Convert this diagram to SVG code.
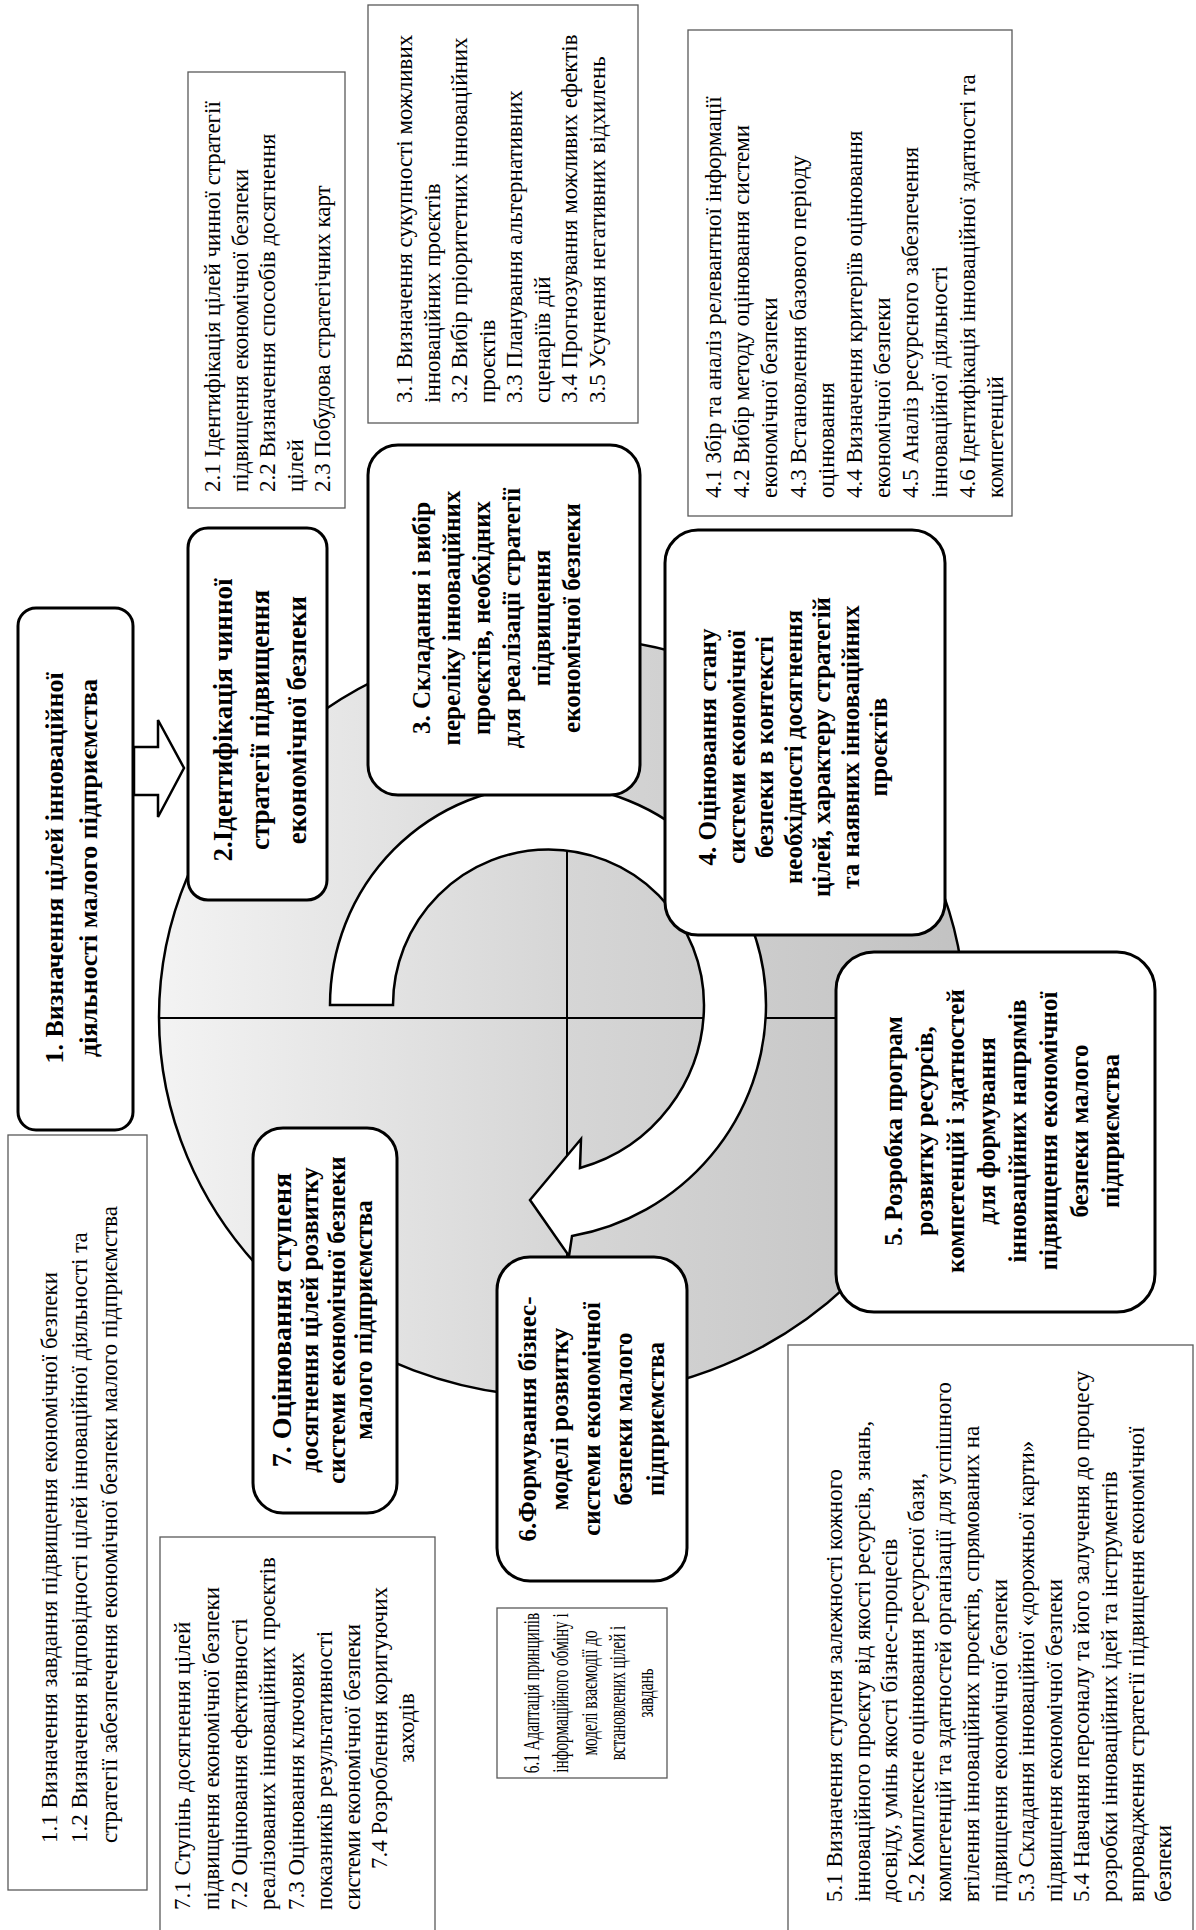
<svg xmlns="http://www.w3.org/2000/svg" width="1196" height="1930" viewBox="0 0 1196 1930">
<defs>
<linearGradient id="g" x1="0" y1="0" x2="1" y2="0">
<stop offset="0" stop-color="#f3f3f3"/><stop offset="0.5" stop-color="#d6d6d6"/><stop offset="1" stop-color="#c2c2c2"/>
</linearGradient>
<style>
.t{font-family:"Liberation Serif","Times New Roman",serif;font-size:23px;fill:#000}
.b{font-family:"Liberation Serif","Times New Roman",serif;font-size:25px;font-weight:bold;fill:#000;text-anchor:middle}
.m{text-anchor:middle}
.n{fill:#fff;stroke:#000;stroke-width:3}
.s{fill:#fff;stroke:#595959;stroke-width:1.3}
.ln{stroke:#000;stroke-width:2}
.ar{fill:#fff;stroke:#000;stroke-width:2.5}
</style>
</defs>
<rect width="1196" height="1930" fill="#fff"/>
<g id="wheel">
<ellipse cx="562" cy="1017" rx="403" ry="380" fill="url(#g)" stroke="#000" stroke-width="2.5"/>
<line class="ln" x1="159" y1="1018" x2="965" y2="1018"/>
<line class="ln" x1="567" y1="637" x2="567" y2="1397"/>
</g>
<g id="connectors">
<path class="ar" d="M330 1005 A218 220 0 0 1 766 1005 A235 235 0 0 1 572 1236 L569 1256 L530 1200 L581 1139 L580 1168 A170 170 0 0 0 704 1005 A155.5 155.5 0 0 0 393 1005 Z"/>
<polygon class="ar" points="134,747 158,747 158,720 184,768 158,817 158,795 134,795"/>
</g>
<g id="node1" transform="translate(18,1130) rotate(-90)">
<rect class="n" width="522" height="115" rx="18"/>
<text class="b" style="font-size:26px"><tspan x="262" y="45">1. Визначення цілей інноваційної</tspan><tspan x="262" y="79">діяльності малого підприємства</tspan></text>
</g>
<g id="sub1" transform="translate(8,1890) rotate(-90)">
<rect class="s" width="755" height="139"/>
<text class="t"><tspan x="47" y="49">1.1 Визначення завдання підвищення економічної безпеки</tspan><tspan x="47" y="79">1.2 Визначення відповідності цілей інноваційної діяльності та</tspan><tspan x="47" y="109">стратегії забезпечення економічної безпеки малого підприємства</tspan></text>
</g>
<g id="node2" transform="translate(188,900) rotate(-90)">
<rect class="n" width="372" height="139" rx="20"/>
<text class="b" style="font-size:27px"><tspan x="180" y="44">2.Ідентифікація чинної</tspan><tspan x="180" y="81">стратегії підвищення</tspan><tspan x="180" y="118">економічної безпеки</tspan></text>
</g>
<g id="sub2" transform="translate(188,508) rotate(-90)">
<rect class="s" width="436" height="157"/>
<text class="t"><tspan x="16" y="32">2.1 Ідентифікація цілей чинної стратегії</tspan><tspan x="16" y="59.5">підвищення економічної безпеки</tspan><tspan x="16" y="87">2.2 Визначення способів досягнення</tspan><tspan x="16" y="114.5">цілей</tspan><tspan x="16" y="142">2.3 Побудова стратегічних карт</tspan></text>
</g>
<g id="node3" transform="translate(368,795) rotate(-90)">
<rect class="n" width="350" height="272" rx="30"/>
<text class="b"><tspan x="177" y="62">3. Складання і вибір</tspan><tspan x="177" y="92">переліку інноваційних</tspan><tspan x="177" y="122">проєктів, необхідних</tspan><tspan x="177" y="152">для реалізації стратегії</tspan><tspan x="177" y="182">підвищення</tspan><tspan x="177" y="212">економічної безпеки</tspan></text>
</g>
<g id="sub3" transform="translate(368,423) rotate(-90)">
<rect class="s" width="418" height="270"/>
<text class="t"><tspan x="20" y="44">3.1 Визначення сукупності можливих</tspan><tspan x="20" y="71.5">інноваційних проєктів</tspan><tspan x="20" y="99">3.2 Вибір пріоритетних інноваційних</tspan><tspan x="20" y="126.5">проєктів</tspan><tspan x="20" y="154">3.3 Планування альтернативних</tspan><tspan x="20" y="181.5">сценаріїв дій</tspan><tspan x="20" y="209">3.4 Прогнозування можливих ефектів</tspan><tspan x="20" y="236.5">3.5 Усунення негативних відхилень</tspan></text>
</g>
<g id="node4" transform="translate(665,935) rotate(-90)">
<rect class="n" width="405" height="280" rx="33"/>
<text class="b"><tspan x="188" y="51">4. Оцінювання стану</tspan><tspan x="188" y="80">системи економічної</tspan><tspan x="188" y="108">безпеки в контексті</tspan><tspan x="188" y="137">необхідності досягнення</tspan><tspan x="188" y="165">цілей, характеру стратегій</tspan><tspan x="188" y="194">та наявних інноваційних</tspan><tspan x="188" y="222">проєктів</tspan></text>
</g>
<g id="sub4" transform="translate(688,516) rotate(-90)">
<rect class="s" width="486" height="324"/>
<text class="t"><tspan x="18" y="33">4.1 Збір та аналіз релевантної інформації</tspan><tspan x="18" y="61">4.2 Вибір методу оцінювання системи</tspan><tspan x="18" y="89">економічної безпеки</tspan><tspan x="18" y="118">4.3 Встановлення базового періоду</tspan><tspan x="18" y="146">оцінювання</tspan><tspan x="18" y="174">4.4 Визначення критеріїв оцінювання</tspan><tspan x="18" y="202">економічної безпеки</tspan><tspan x="18" y="230">4.5 Аналіз ресурсного забезпечення</tspan><tspan x="18" y="259">інноваційної діяльності</tspan><tspan x="18" y="287">4.6 Ідентифікація інноваційної здатності та</tspan><tspan x="18" y="315">компетенцій</tspan></text>
</g>
<g id="node5" transform="translate(836,1312) rotate(-90)">
<rect class="n" width="360" height="319" rx="38"/>
<text class="b"><tspan x="181" y="66">5. Розробка програм</tspan><tspan x="181" y="97">розвитку ресурсів,</tspan><tspan x="181" y="128">компетенцій і здатностей</tspan><tspan x="181" y="159">для формування</tspan><tspan x="181" y="190">інноваційних напрямів</tspan><tspan x="181" y="221">підвищення економічної</tspan><tspan x="181" y="252">безпеки малого</tspan><tspan x="181" y="283">підприємства</tspan></text>
</g>
<g id="sub5" transform="translate(788,1940) rotate(-90)">
<rect class="s" width="595" height="405"/>
<text class="t"><tspan x="38" y="54">5.1 Визначення ступеня залежності кожного</tspan><tspan x="38" y="81.5">інноваційного проєкту від якості ресурсів, знань,</tspan><tspan x="38" y="109">досвіду, умінь якості бізнес-процесів</tspan><tspan x="38" y="136">5.2 Комплексне оцінювання ресурсної бази,</tspan><tspan x="38" y="163">компетенцій та здатностей організації для успішного</tspan><tspan x="38" y="191">втілення інноваційних проєктів, спрямованих на</tspan><tspan x="38" y="218.5">підвищення економічної безпеки</tspan><tspan x="38" y="246">5.3 Складання інноваційної «дорожньої карти»</tspan><tspan x="38" y="273.5">підвищення економічної безпеки</tspan><tspan x="38" y="301">5.4 Навчання персоналу та його залучення до процесу</tspan><tspan x="38" y="328.5">розробки інноваційних ідей та інструментів</tspan><tspan x="38" y="356">впровадження стратегії підвищення економічної</tspan><tspan x="38" y="383">безпеки</tspan></text>
</g>
<g id="node6" transform="translate(497,1581) rotate(-90)">
<rect class="n" width="324" height="190" rx="33"/>
<text class="b"><tspan x="162" y="39">6.Формування бізнес-</tspan><tspan x="162" y="71">моделі розвитку</tspan><tspan x="162" y="103">системи економічної</tspan><tspan x="162" y="135">безпеки малого</tspan><tspan x="162" y="167">підприємства</tspan></text>
</g>
<g id="sub6" transform="translate(497,1778) rotate(-90)">
<rect class="s" width="170" height="170"/>
<g transform="translate(85,0) scale(0.66,1)">
<text class="t m"><tspan x="0" y="42">6.1 Адаптація принципів</tspan><tspan x="0" y="71">інформаційного обміну і</tspan><tspan x="0" y="100">моделі взаємодії до</tspan><tspan x="0" y="128">встановлених цілей і</tspan><tspan x="0" y="156">завдань</tspan></text>
</g>
</g>
<g id="node7" transform="translate(253,1513) rotate(-90)">
<rect class="n" width="385" height="144" rx="30"/>
<text class="b"><tspan x="193" y="38" style="font-size:28px">7. Оцінювання ступеня</tspan><tspan x="193" y="65">досягнення цілей розвитку</tspan><tspan x="193" y="92">системи економічної безпеки</tspan><tspan x="193" y="119">малого підприємства</tspan></text>
</g>
<g id="sub7" transform="translate(160,1940) rotate(-90)">
<rect class="s" width="403" height="275"/>
<text class="t"><tspan x="30" y="30">7.1 Ступінь досягнення цілей</tspan><tspan x="30" y="58.5">підвищення економічної безпеки</tspan><tspan x="30" y="87">7.2 Оцінювання ефективності</tspan><tspan x="30" y="115">реалізованих інноваційних проєктів</tspan><tspan x="30" y="143.5">7.3 Оцінювання ключових</tspan><tspan x="30" y="172">показників результативності</tspan><tspan x="30" y="200">системи економічної безпеки</tspan></text>
<text class="t m"><tspan x="212" y="227">7.4 Розроблення коригуючих</tspan><tspan x="212" y="254">заходів</tspan></text>
</g>
</svg>
